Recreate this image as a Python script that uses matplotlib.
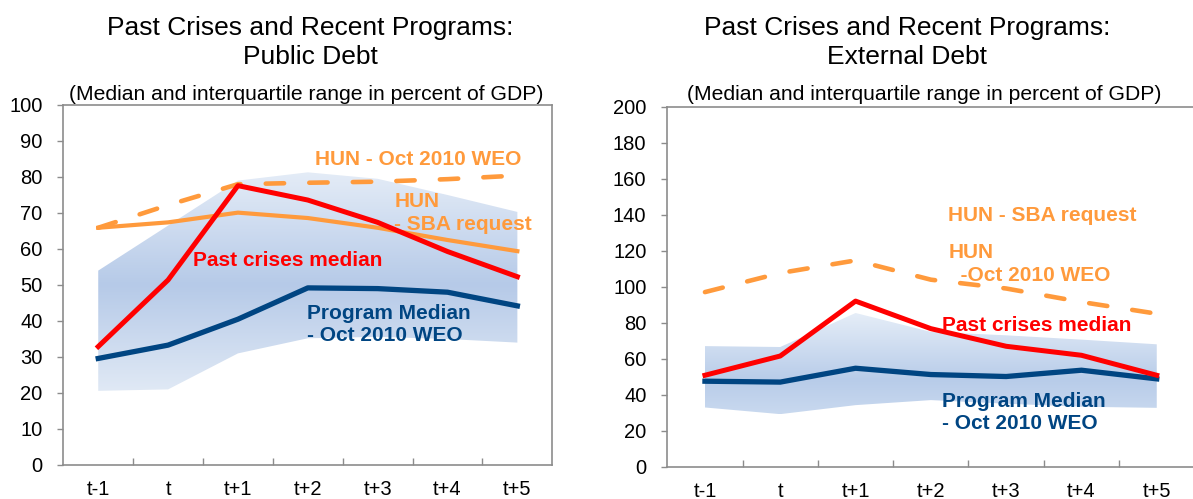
import numpy as np
import matplotlib
matplotlib.use("Agg")
import matplotlib.pyplot as plt
from matplotlib.colors import LinearSegmentedColormap

plt.rcParams['font.family'] = ['Liberation Sans', 'DejaVu Sans']

periods = ["t-1", "t", "t+1", "t+2", "t+3", "t+4", "t+5"]

# Public debt (percent of GDP)
pub_past = [32.9, 51.4, 77.6, 73.6, 67.4, 59.3, 52.3]
pub_prog = [29.6, 33.3, 40.5, 49.2, 49.0, 48.0, 44.2]
pub_hun_sba = [65.9, 67.4, 70.1, 68.6, 65.9, 62.5, 59.4]
pub_hun_weo = [65.9, 72.2, 78.0, 78.4, 78.7, 79.4, 80.4]
pub_q75 = [54.0, 66.5, 79.0, 81.3, 79.5, 75.0, 70.3]
pub_q25 = [20.6, 21.0, 31.0, 35.2, 35.6, 35.0, 34.0]

# External debt (percent of GDP)
ext_past = [50.8, 61.5, 92.0, 76.7, 66.9, 61.9, 50.8]
ext_prog = [47.5, 47.0, 54.7, 51.2, 50.1, 53.6, 48.8]
ext_hun_weo = [97.0, 107.6, 114.6, 103.9, 99.0, 91.5, 85.0]
ext_q75 = [67.0, 66.5, 85.4, 74.9, 73.0, 70.6, 68.0]
ext_q25 = [32.9, 29.2, 34.2, 37.0, 35.0, 33.3, 32.7]

RED = "#ff0000"
NAVY = "#004582"
ORANGE = "#ff9a3c"
GREY = "#8c8c8c"

fig = plt.figure(figsize=(11.93, 4.99), dpi=100)
W, H = 1193, 499


def gradient_band(ax, x, lo, hi, stops):
    poly = ax.fill_between(x, lo, hi, color="none", lw=0)
    y0, y1 = min(lo), max(hi)
    cols = [((v - y0) / (y1 - y0), c) for v, c in stops]
    cmap = LinearSegmentedColormap.from_list("band", cols)
    grad = np.linspace(0, 1, 256)[:, None]
    im = ax.imshow(grad, cmap=cmap, aspect="auto", origin="lower",
                   extent=[x[0], x[-1], y0, y1], zorder=1)
    path = poly.get_paths()[0]
    im.set_clip_path(path, transform=ax.transData)


def style_axes(ax, ymax, ystep):
    ax.set_xlim(-0.5, 6.5)
    ax.set_ylim(0, ymax)
    ax.set_yticks(np.arange(0, ymax + 1, ystep))
    ax.set_xticks(range(len(periods)))
    ax.set_xticklabels(periods)
    ax.set_xticks(np.arange(0.5, 6, 1), minor=True)
    ax.tick_params(axis="x", which="major", length=0, pad=11, labelsize=14.5)
    ax.tick_params(axis="x", which="minor", direction="in", length=5,
                   color=GREY, width=1)
    ax.tick_params(axis="y", direction="out", length=4, color=GREY,
                   width=1, pad=11, labelsize=14.5)
    for s in ax.spines.values():
        s.set_color(GREY)
        s.set_linewidth(1.2)


x = np.arange(len(periods))

# ---- left panel: public debt
ax1 = fig.add_axes([63.3 / W, (H - 465) / H, 489 / W, 360 / H])
gradient_band(ax1, x, pub_q25, pub_q75,
              [(20.6, "#e0e9f5"), (50, "#b6cae8"), (81.3, "#e4ecf7")])
ax1.plot(x, pub_hun_sba, color=ORANGE, lw=3.0, zorder=3)
ax1.plot(x, pub_hun_weo, color=ORANGE, lw=3.3, ls=(0, (4, 5.5)),
         dash_capstyle="round", zorder=3)
ax1.plot(x, pub_prog, color=NAVY, lw=3.8, zorder=4)
ax1.plot(x, pub_past, color=RED, lw=3.6, zorder=5)
style_axes(ax1, 100, 10)

fs = 15
ax1.text(3.10, 84.9, "HUN - Oct 2010 WEO", color=ORANGE, fontsize=fs,
         fontweight="bold", va="center", zorder=6)
ax1.text(4.24, 70.0, "HUN\n- SBA request", color=ORANGE, fontsize=fs,
         fontweight="bold", va="center", linespacing=1.25, zorder=6)
ax1.text(1.36, 56.7, "Past crises median", color=RED, fontsize=fs,
         fontweight="bold", va="center", zorder=6)
ax1.text(2.99, 39.0, "Program Median\n- Oct 2010 WEO", color=NAVY, fontsize=fs,
         fontweight="bold", va="center", linespacing=1.25, zorder=6)

# ---- right panel: external debt
ax2 = fig.add_axes([667.3 / W, (H - 466.7) / H, 527.1 / W, 360 / H])
gradient_band(ax2, x, ext_q25, ext_q75,
              [(29.2, "#c9d9ef"), (48, "#b8cce9"), (85.4, "#e6eef8")])
ax2.plot(x, ext_hun_weo, color=ORANGE, lw=3.3, ls=(0, (4, 5.5)),
         dash_capstyle="round", zorder=3)
ax2.plot(x, ext_prog, color=NAVY, lw=3.8, zorder=4)
ax2.plot(x, ext_past, color=RED, lw=3.6, zorder=5)
style_axes(ax2, 200, 20)
ax2.spines["right"].set_visible(False)

ax2.text(3.23, 139.6, "HUN - SBA request", color=ORANGE, fontsize=fs,
         fontweight="bold", va="center", zorder=6)
ax2.text(3.24, 112.7, "HUN\n  -Oct 2010 WEO", color=ORANGE, fontsize=fs,
         fontweight="bold", va="center", linespacing=1.25, zorder=6)
ax2.text(3.15, 78.2, "Past crises median", color=RED, fontsize=fs,
         fontweight="bold", va="center", zorder=6)
ax2.text(3.15, 30.1, "Program Median\n- Oct 2010 WEO", color=NAVY, fontsize=fs,
         fontweight="bold", va="center", linespacing=1.25, zorder=6)

# ---- titles
def ftext(px, py, s, size):
    fig.text(px / W, 1 - py / H, s, ha="center", va="center", fontsize=size)

ftext(310, 28, "Past Crises and Recent Programs:", 19)
ftext(310, 57, "Public Debt", 19)
ftext(306, 94, "(Median and interquartile range in percent of GDP)", 15.2)
ftext(907, 28, "Past Crises and Recent Programs:", 19)
ftext(907, 57, "External Debt", 19)
ftext(924, 94, "(Median and interquartile range in percent of GDP)", 15.2)

fig.savefig("out.png", dpi=100)
